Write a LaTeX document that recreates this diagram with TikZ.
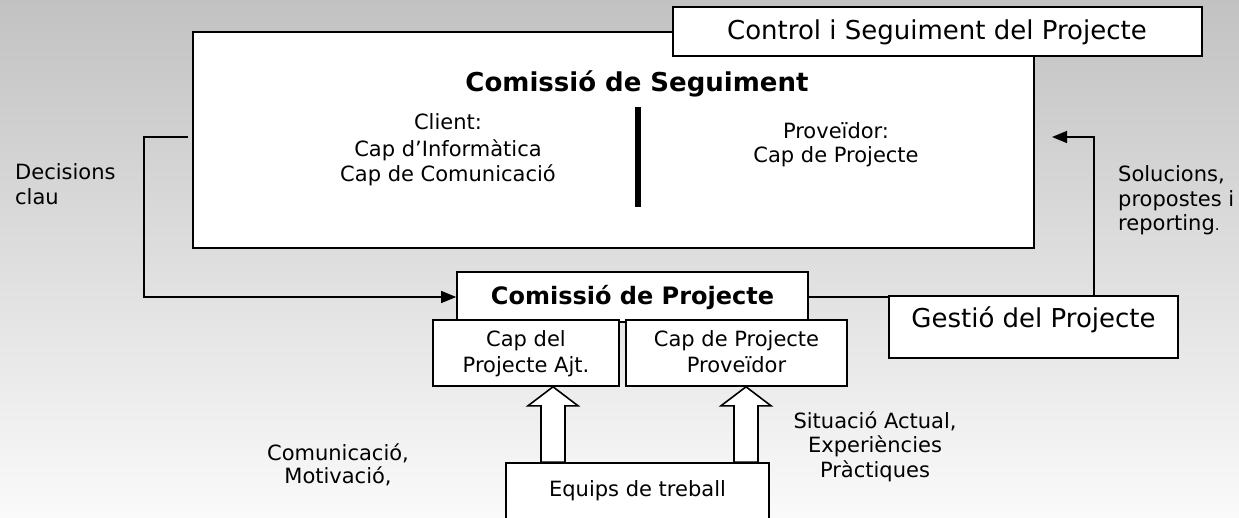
\documentclass[tikz,border=0pt]{standalone}
\usepackage{fontspec}
\setmainfont{DejaVu Sans}
\usetikzlibrary{arrows.meta,calc}

\definecolor{bgtop}{RGB}{194,194,194}
\definecolor{bgmid}{RGB}{236,236,236}
\definecolor{bgbot}{RGB}{250,250,250}

\begin{document}
\begin{tikzpicture}[x=1pt, y=-1pt, font=\fontsize{21}{25}\selectfont]

	% ---------- Background ----------
	\useasboundingbox (0,0) rectangle (1239,518);
	\shade[top color=bgtop, middle color=bgmid, bottom color=bgbot] (0,0) rectangle (1239,518);

	% ---------- Helper styles ----------
	\tikzset{
		box/.style={draw, line width=1.6pt, fill=white, inner sep=0pt},
		lbl/.style={anchor=base, inner sep=0pt},
		big/.style={font=\fontsize{26}{30}\selectfont},
		conn/.style={line width=1.3pt},
		toarrow/.style={-{Triangle[length=15pt,width=12pt]}},
		fat/.style={draw, line width=1.6pt, fill=white}
	}

	% ---------- Comissio de Seguiment (top) ----------
	\node[box, minimum width=841pt, minimum height=216pt] (seg) at (613.5,140) {};
	\node[box, minimum width=529pt, minimum height=49pt] (ctrl) at (937.5,31.5) {};
	\node[lbl, big] (ctrltxt) at (937,39.5) {Control i Seguiment del Projecte};
	\node[lbl, font=\bfseries\fontsize{26}{30}\selectfont] (segtitle) at (637,92) {Comissió de Seguiment};

	% client side / provider side
	\foreach \t/\y [count=\i] in {Client:/130, Cap d’Informàtica/157, Cap de Comunicació/182} {
		\node[lbl] (client\i) at (448,\y) {\t};
	}
	\draw[line width=6pt] (638,107) -- (638,207);
	\foreach \t/\y [count=\i] in {Proveïdor:/139, Cap de Projecte/163} {
		\node[lbl] (prov\i) at (836,\y) {\t};
	}

	% ---------- Side labels ----------
	\node[lbl, anchor=base west] (dec1) at (15,180) {Decisions};
	\node[lbl, anchor=base west] (dec2) at (15,205) {clau};
	\node[lbl, anchor=base west] (sol1) at (1118,182) {Solucions,};
	\node[lbl, anchor=base west] (sol2) at (1118,206.5) {propostes i};
	\node[lbl, anchor=base west] (sol3) at (1118,231) {reporting{\fontsize{15}{15}\selectfont.}};

	% ---------- Comissio de Projecte ----------
	\node[box, minimum width=351pt, minimum height=50pt] (cdp) at (632.5,297) {};
	\node[lbl, font=\bfseries\fontsize{24}{28}\selectfont] (cdptxt) at (632.5,305) {Comissió de Projecte};

	\node[box, minimum width=186pt, minimum height=66pt] (capA) at (526,353) {};
	\node[lbl] (capA1) at (526,347) {Cap del};
	\node[lbl] (capA2) at (526,372) {Projecte Ajt.};

	\node[box, minimum width=221pt, minimum height=66pt] (capP) at (736.5,353) {};
	\node[lbl] (capP1) at (736.5,347) {Cap de Projecte};
	\node[lbl] (capP2) at (736.5,372) {Proveïdor};

	% ---------- Gestio del Projecte ----------
	\node[box, minimum width=289pt, minimum height=62pt] (gestio) at (1033.5,327) {};
	\node[lbl, big] (gestiotxt) at (1033.5,328) {Gestió del Projecte};

	% ---------- Equips de treball (bottom) ----------
	\node[box, minimum width=263pt, minimum height=80pt] (equips) at (637.5,503) {};
	\node[lbl] (equipstxt) at (637.5,496) {Equips de treball};

	\foreach \t/\y [count=\i] in {{Comunicació,}/460, {Motivació,}/483} {
		\node[lbl] (com\i) at (338,\y) {\t};
	}
	\foreach \t/\y [count=\i] in {{Situació Actual,}/428, Experiències/452.5, Pràctiques/477} {
		\node[lbl] (sit\i) at (875,\y) {\t};
	}

	% ---------- Connectors ----------
	\coordinate (decin) at (188,137);
	\draw[conn, toarrow] (decin) -- (144,137) |- (cdp.west);
	\coordinate (solout) at (1052,137);
	\draw[conn, toarrow] (gestio.north -| 1094,0) |- (solout);
	\draw[conn] (cdp.east) -- (cdp.east -| gestio.west);

	% hollow arrows from the teams up to both project heads
	\foreach \dst/\x in {capA/553, capP/746} {
		\coordinate (h) at (\dst.south -| \x,0);
		\coordinate (b) at (equips.north -| \x,0);
		\draw[fat] (h) -- ++(25,19) -- ++(-13,0) -- ($(b)+(12,0)$) -- ($(b)+(-12,0)$)
			-- ($(h)+(-12,19)$) -- ++(-13,0) -- cycle;
	}

\end{tikzpicture}
\end{document}
